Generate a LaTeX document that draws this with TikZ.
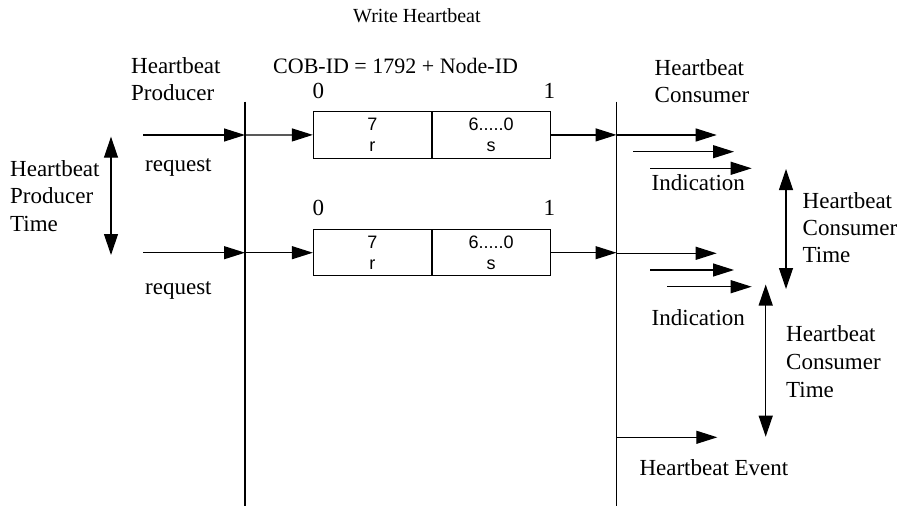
\documentclass[tikz,border=0pt]{standalone}
\usepackage{fontspec}
\setmainfont{Liberation Serif}
\newfontfamily\fieldfont{Liberation Sans}
\usetikzlibrary{arrows.meta}
\begin{document}
\begin{tikzpicture}[x=1pt,y=-1pt,
  lbl/.style={inner sep=0pt,anchor=base west,font=\fontsize{23}{27}\selectfont},
  flow/.style={line width=1.2pt,-{Triangle[length=21pt,width=13pt]}},
  span/.style={line width=1.2pt,{Triangle[length=21pt,width=14pt]}-{Triangle[length=21pt,width=14pt]}},
  lifeline/.style={line width=1.3pt},
  field/.style={draw,line width=0.9pt,minimum width=118pt,minimum height=46.3pt,inner sep=0pt,
    align=center,font=\fieldfont\fontsize{18}{21.7}\selectfont}]
\useasboundingbox (0,0) rectangle (905,506);

% producer and consumer lifelines
\coordinate (Ptop) at (245,101.5);
\coordinate (Pbot) at (245,506);
\coordinate (Ctop) at (616.5,101.5);
\coordinate (Cbot) at (616.5,506);
\draw[lifeline] (Ptop) -- (Pbot);
\draw[lifeline] (Ctop) -- (Cbot);

% titles
\node[lbl,font=\fontsize{20}{24}\selectfont] (title) at (353,23) {Write Heartbeat};
\node[lbl,font=\fontsize{22}{26}\selectfont] (cobid) at (273,73) {COB-ID = 1792 + Node-ID};
\node[lbl] (prodA) at (131,73.3) {Heartbeat};
\node[lbl] (prodB) at (131,100.7) {Producer};
\node[lbl] (consA) at (654.5,75) {Heartbeat};
\node[lbl] (consB) at (654.5,102.7) {Consumer};

% first heartbeat message
\node[field] (r1) at (372.3,134.9) {7\\r};
\node[field,anchor=west] (s1) at (r1.east) {6.....0\\s};
\node[lbl] (z1) at (312.5,98) {0};
\node[lbl] (o1) at (543.5,98) {1};
\coordinate (in1) at (143,135);
\draw[flow] (in1) -- (in1 -| Ptop);
\draw[flow] (in1 -| Ptop) -- (r1.west);
\draw[flow] (s1.east) -- (s1.east -| Ctop);
\node[lbl] (req1) at (145,171) {request};

% second heartbeat message
\node[field] (r2) at (372.3,252.7) {7\\r};
\node[field,anchor=west] (s2) at (r2.east) {6.....0\\s};
\node[lbl] (z2) at (312.5,215) {0};
\node[lbl] (o2) at (543.5,215) {1};
\coordinate (in2) at (143,252.7);
\draw[flow] (in2) -- (in2 -| Ptop);
\draw[flow] (in2 -| Ptop) -- (r2.west);
\draw[flow] (s2.east) -- (s2.east -| Ctop);
\node[lbl] (req2) at (145,294) {request};

% producer time
\coordinate (ptA) at (111,136.7);
\coordinate (ptB) at (111,255);
\draw[span] (ptA) -- (ptB);
\node[lbl] (ptl1) at (10,176) {Heartbeat};
\node[lbl] (ptl2) at (10,203.5) {Producer};
\node[lbl] (ptl3) at (10,231) {Time};

% indications at the consumers, first message
\coordinate (a1e) at (716.7,135);
\coordinate (b1s) at (633,151.7);
\coordinate (b1e) at (734,151.7);
\coordinate (c1s) at (650,168.3);
\coordinate (c1e) at (751.7,168.3);
\draw[flow] (a1e -| Ctop) -- (a1e);
\draw[flow] (b1s) -- (b1e);
\draw[flow] (c1s) -- (c1e);
\node[lbl] (ind1) at (651.5,190) {Indication};

% indications at the consumers, second message
\coordinate (a2e) at (716.7,253.3);
\coordinate (b2s) at (650,270);
\coordinate (b2e) at (734,270);
\coordinate (c2s) at (667,286.7);
\coordinate (c2e) at (751.7,286.7);
\draw[flow] (a2e -| Ctop) -- (a2e);
\draw[flow] (b2s) -- (b2e);
\draw[flow] (c2s) -- (c2e);
\node[lbl] (ind2) at (651.5,325) {Indication};

% consumer time, first
\coordinate (ctA) at (786,169);
\coordinate (ctB) at (786,289);
\draw[span] (ctA) -- (ctB);
\node[lbl] (ct1a) at (802.5,208.3) {Heartbeat};
\node[lbl] (ct1b) at (802.5,235.5) {Consumer};
\node[lbl] (ct1c) at (802.5,262.7) {Time};

% consumer time, second
\coordinate (cuA) at (765.7,284.5);
\coordinate (cuB) at (765.7,436.7);
\draw[span] (cuA) -- (cuB);
\node[lbl] (ct2a) at (786,341) {Heartbeat};
\node[lbl] (ct2b) at (786,369.3) {Consumer};
\node[lbl] (ct2c) at (786,397.3) {Time};

% heartbeat event
\coordinate (ev) at (717.3,437.3);
\draw[flow] (ev -| Ctop) -- (ev);
\node[lbl] (evl) at (639.3,475) {Heartbeat Event};
\end{tikzpicture}
\end{document}
